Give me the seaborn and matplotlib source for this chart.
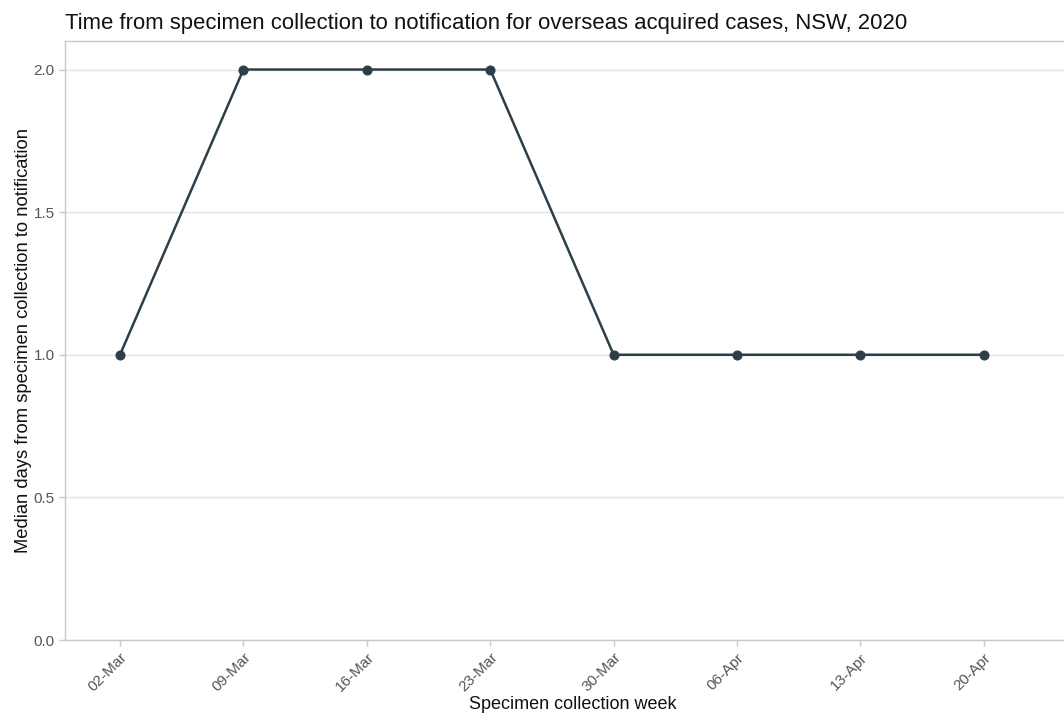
import matplotlib
matplotlib.use("Agg")
import matplotlib.pyplot as plt
import matplotlib.dates as mdates
import seaborn as sns
import pandas as pd

# data
weeks = ["2020-03-02", "2020-03-09", "2020-03-16", "2020-03-23",
         "2020-03-30", "2020-04-06", "2020-04-13", "2020-04-20"]
median_days = [1, 2, 2, 2, 1, 1, 1, 1]

df = pd.DataFrame({"week": pd.to_datetime(weeks), "days": median_days})

sns.set_theme(style="white")
plt.rcParams['font.family'] = ['Liberation Sans', 'DejaVu Sans']

fig = plt.figure(figsize=(10.64, 7.16), dpi=100)
ax = fig.add_axes([65 / 1064, 76 / 716, 1015 / 1064, 599 / 716])

line_col = "#2c3e48"
sns.lineplot(data=df, x="week", y="days", ax=ax, color=line_col,
             linewidth=1.8, marker="o", markersize=6.5,
             markeredgecolor=line_col, markerfacecolor=line_col)

ax.set_ylim(0, 2.1)
ax.set_yticks([0, 0.5, 1.0, 1.5, 2.0])
ax.set_yticklabels(["0.0", "0.5", "1.0", "1.5", "2.0"])
ax.set_xlim(df["week"].iloc[0] - pd.Timedelta(days=3.12),
            df["week"].iloc[-1] + pd.Timedelta(days=5.45))
ax.set_xticks(df["week"])
ax.xaxis.set_major_formatter(mdates.DateFormatter("%d-%b"))
plt.setp(ax.get_xticklabels(), rotation=45, ha="right", rotation_mode="anchor")

ax.grid(axis="y", color="#e3e3e3", linewidth=1)
ax.grid(axis="x", visible=False)
for s in ax.spines.values():
    s.set_color("#c8c8c8")
    s.set_linewidth(1)

ax.tick_params(axis="both", colors="#c8c8c8", labelcolor="#555555",
               labelsize=11, length=4, width=1, bottom=True, left=True)

ax.set_xlabel("Specimen collection week", fontsize=13, color="#111111", labelpad=1)
ax.set_ylabel("Median days from specimen collection to notification",
              fontsize=13.2, color="#111111", labelpad=1)
ax.set_title("Time from specimen collection to notification for overseas acquired cases, NSW, 2020",
             fontsize=15.9, loc="left", color="#111111", pad=9)

fig.savefig("out.png", dpi=100)
